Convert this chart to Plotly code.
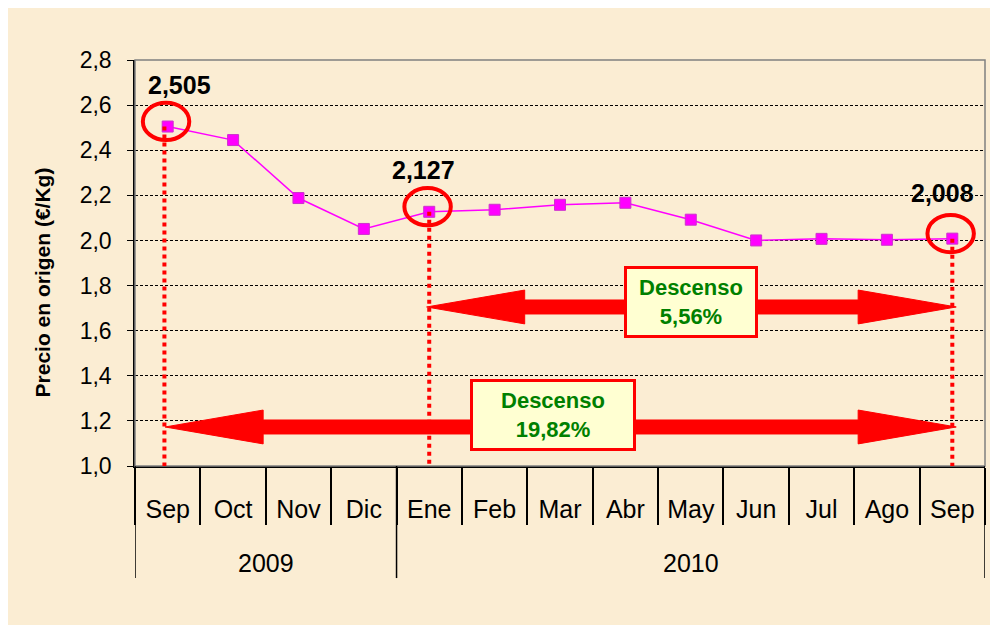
import plotly.graph_objects as go

years = ["2009"] * 4 + ["2010"] * 9
months = ["Sep", "Oct", "Nov", "Dic", "Ene", "Feb", "Mar", "Abr", "May", "Jun", "Jul", "Ago", "Sep"]
precio = [2.505, 2.445, 2.188, 2.051, 2.127, 2.136, 2.158, 2.167, 2.092, 2.000, 2.007, 2.003, 2.008]

highlight_idx = [0, 4, 12]
descensos = [
    {"start": 0, "end": 12, "y": 1.173, "text": "Descenso<br>19,82%", "bx": 5.9, "by": 1.226, "w": 158},
    {"start": 4, "end": 12, "y": 1.705, "text": "Descenso<br>5,56%", "bx": 8.0, "by": 1.727, "w": 126},
]
y_title = "Precio en origen (€/Kg)"

FONT = "Liberation Sans, Arial"
RED = "#FF0000"
cats = [f"{m} {y}" for m, y in zip(months, years)]

fig = go.Figure()
fig.add_trace(go.Scatter(
    x=cats, y=precio, mode="lines+markers",
    line=dict(color="#FF00FF", width=1.5),
    marker=dict(symbol="square", size=11, color="#FF00FF", line=dict(color="#CC33CC", width=1)),
    showlegend=False, hoverinfo="skip",
))

shapes = []
shapes.append(dict(type="rect", xref="paper", yref="paper", x0=-0.152, x1=1.2, y0=-0.6, y1=1.126,
                   fillcolor="#FBEDD3", line=dict(width=0), layer="below"))
shapes.append(dict(type="rect", xref="paper", yref="paper", x0=0, x1=1, y0=0, y1=1,
                   line=dict(color="#808080", width=1.5), layer="above"))

ann = []
groups = []
for i, y in enumerate(years):
    if not groups or groups[-1][0] != y:
        groups.append([y, i, i])
    else:
        groups[-1][2] = i
bounds = sorted({g[1] - 0.5 for g in groups} | {g[2] + 0.5 for g in groups})
for b in bounds:
    shapes.append(dict(type="line", xref="x", yref="paper", x0=b, x1=b, y0=0, y1=-0.276,
                       line=dict(color="black", width=1.5)))
for y, a, b in groups:
    ann.append(dict(x=(a + b) / 2, y=-0.239, xref="x", yref="paper", yanchor="middle", text=y,
                    showarrow=False, font=dict(family=FONT, size=25, color="black")))

for i in highlight_idx:
    v = precio[i]
    xo = -0.05 if i == 0 else 0.0
    shapes.append(dict(type="line", xref="x", yref="y", x0=i + xo, x1=i + xo, y0=v, y1=0.98,
                       line=dict(color=RED, width=4, dash="dot"), layer="above"))
    shapes.append(dict(type="circle", xref="x", yref="y", x0=i - 0.38, x1=i + 0.33,
                       y0=v - 0.06, y1=v + 0.105, line=dict(color=RED, width=4), layer="above"))

label_shift = {0: (12, 42), 4: (-6, 42), 12: (-10, 46)}
for i in highlight_idx:
    xs, ys = label_shift[i]
    ann.append(dict(x=i, y=precio[i], xref="x", yref="y",
                    text="<b>" + f"{precio[i]:.3f}".replace(".", ",") + "</b>",
                    showarrow=False, xshift=xs, yshift=ys,
                    font=dict(family=FONT, size=25, color="black")))

for d in descensos:
    s, e, y = d["start"] - 0.04, d["end"] + 0.06, d["y"]
    hl, hh, sh = 1.5, 0.075, 0.031
    path = (f"M {s},{y} L {s+hl},{y+hh} L {s+hl},{y+sh} L {e-hl},{y+sh} L {e-hl},{y+hh} "
            f"L {e},{y} L {e-hl},{y-hh} L {e-hl},{y-sh} L {s+hl},{y-sh} L {s+hl},{y-hh} Z")
    shapes.append(dict(type="path", xref="x", yref="y", path=path, fillcolor=RED,
                       line=dict(color=RED, width=1), layer="above"))
    ann.append(dict(x=d["bx"], y=d["by"], xref="x", yref="y", text="<b>" + d["text"] + "</b>",
                    showarrow=False, width=d["w"], height=64, align="center",
                    bgcolor="#FFFFD2", bordercolor=RED, borderwidth=3, borderpad=1,
                    font=dict(family=FONT, size=22, color="#008000")))

# y-axis title (placed slightly below center as in the reference)
ann.append(dict(x=-0.109, y=0.453, xref="paper", yref="paper", text="<b>" + y_title + "</b>",
                textangle=-90, showarrow=False, xanchor="center", yanchor="middle",
                font=dict(family=FONT, size=21, color="black")))

fig.update_layout(
    width=990, height=617,
    margin=dict(l=127, r=13, t=52, b=159),
    paper_bgcolor="#FBEDD3", plot_bgcolor="#D0C4A0",
    separators=",.",
    shapes=shapes, annotations=ann,
    font=dict(family=FONT, color="black"),
)
fig.update_xaxes(
    type="category", tickvals=cats, ticktext=months,
    showline=True, linecolor="black", linewidth=2,
    ticks="outside", tickson="boundaries", ticklen=57, tickcolor="black", tickwidth=1.5,
    ticklabelstandoff=20,
    tickfont=dict(size=25, family=FONT),
    showgrid=False, range=[-0.5, 12.5],
)
fig.update_yaxes(
    range=[1.0, 2.8], dtick=0.2, tickformat=".1f",
    showline=True, linecolor="black", linewidth=1.5,
    ticks="outside", ticklen=6, tickcolor="black",
    ticklabelstandoff=11,
    showgrid=True, gridcolor="black", gridwidth=1, griddash="3px,2px",
    tickfont=dict(size=23, family=FONT),
    zeroline=False,
)

fig.write_html("out.html")
